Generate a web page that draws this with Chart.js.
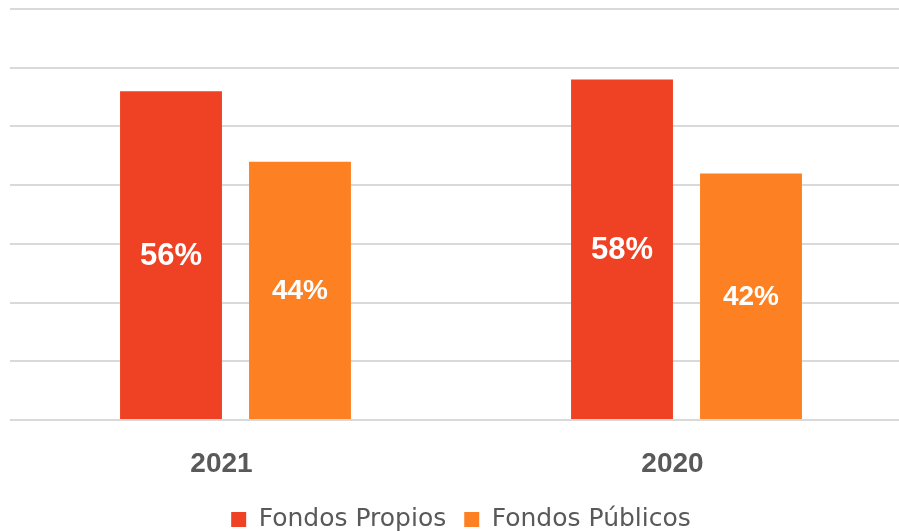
<!DOCTYPE html>
<html>
<head>
<meta charset="utf-8">
<script src="https://cdn.jsdelivr.net/npm/chart.js@4.4.0/dist/chart.umd.min.js"></script>
<style>
  html, body { margin: 0; padding: 0; background: #fff; overflow: hidden; }
  #wrap { width: 914px; height: 531px; position: relative; }
</style>
</head>
<body>
<div id="wrap"><canvas id="chart"></canvas></div>
<script>
const years    = ['2021', '2020'];
const propios  = [56, 58];
const publicos = [44, 42];
const seriesNames = ['Fondos Propios', 'Fondos Públicos'];

const red    = '#ef4123';
const orange = '#fd8023';
const gray   = '#595959';
const grid   = '#d9d9d9';

// white % labels in the middle of each bar
const barLabels = {
  id: 'barLabels',
  afterDatasetsDraw(chart) {
    const ctx = chart.ctx;
    const sizes = [31, 28];
    chart.data.datasets.forEach((ds, di) => {
      chart.getDatasetMeta(di).data.forEach((bar, i) => {
        const { x, y, base } = bar.getProps(['x', 'y', 'base'], true);
        ctx.save();
        ctx.fillStyle = '#fff';
        ctx.font = `bold ${sizes[di]}px "Liberation Sans", Arial, sans-serif`;
        ctx.textAlign = 'center';
        ctx.textBaseline = 'middle';
        ctx.fillText(ds.data[i] + '%', x, (y + base) / 2 + 1);
        ctx.restore();
      });
    });
  }
};

new Chart(document.getElementById('chart'), {
  type: 'bar',
  data: {
    labels: years,
    datasets: [
      { label: seriesNames[0], data: propios,  backgroundColor: red },
      { label: seriesNames[1], data: publicos, backgroundColor: orange },
    ],
  },
  options: {
    responsive: true, maintainAspectRatio: false, animation: false,
    categoryPercentage: 0.572, barPercentage: 0.79,
    layout: { padding: { left: 10, right: 2, top: 9, bottom: -11 } },
    plugins: {
      tooltip: { enabled: false },
      legend: {
        position: 'bottom',
        labels: {
          color: gray, boxWidth: 15, boxHeight: 15, padding: 18,
          font: { family: '"DejaVu Sans", sans-serif', size: 25 },
        },
      },
    },
    scales: {
      x: {
        grid: { display: false },
        border: { display: false },
        afterFit(scale) { scale.height -= 11; },
        ticks: {
          color: gray, padding: 30, labelOffset: -14,
          font: { family: '"Liberation Sans", Arial, sans-serif', size: 28, weight: 'bold', lineHeight: 0.43 },
        },
      },
      y: {
        min: 0, max: 70,
        ticks: { display: false, stepSize: 10 },
        grid: { color: grid, lineWidth: 2, drawTicks: false },
        border: { display: false },
      },
    },
  },
  plugins: [barLabels],
});
</script>
</body>
</html>
